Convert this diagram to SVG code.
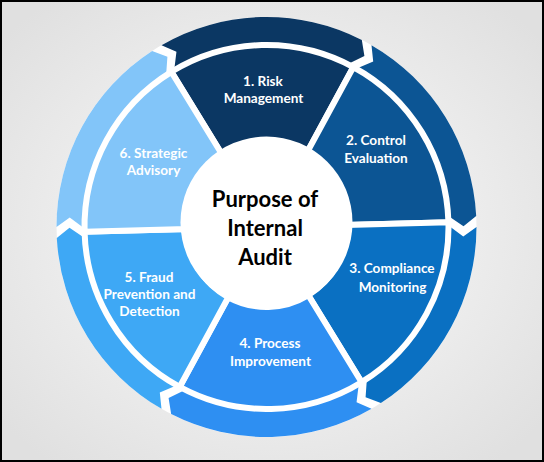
<svg xmlns="http://www.w3.org/2000/svg" xmlns:xlink="http://www.w3.org/1999/xlink" width="544" height="462" viewBox="0 0 544 462">
<defs>
<radialGradient id="bg" cx="50%" cy="50%" r="65%">
<stop offset="0" stop-color="#fdfdfd"/>
<stop offset="1" stop-color="#e0e0e0"/>
</radialGradient>
<path id="seg" d="M -91 -157.62 A 182 182 0 0 1 91 -157.62 L 40 -69.28 A 80 80 0 0 0 -40 -69.28 Z"/>
<path id="arc" d="M -100.20 -184.55 A 210 210 0 0 1 100.20 -184.55 L 102.35 -168.33 L 87.80 -161.70 A 184 184 0 0 0 -87.80 -161.70 L -85.43 -177.51 Z"/>
</defs>
<style>
.seg{stroke:#ffffff;stroke-width:6;stroke-linejoin:miter}
.lbl{font-family:Lato,"Liberation Sans",sans-serif;font-weight:bold;font-size:13.6px;fill:#ffffff;text-anchor:middle}
.title{font-family:Lato,"Liberation Sans",sans-serif;font-weight:bold;font-size:22px;fill:#000000;text-anchor:middle}
.c1{fill:#0b3763}.c2{fill:#0c5594}.c3{fill:#0a70c2}.c4{fill:#2e8ff2}.c5{fill:#3ea8f5}.c6{fill:#82c5f9}
</style>
<rect x="1" y="1" width="542" height="460" fill="url(#bg)" stroke="#000000" stroke-width="2"/>
<circle cx="266.5" cy="227" r="210" fill="#ffffff"/>
<g id="connectors">
<use xlink:href="#arc" class="c1" transform="translate(266.5 227) rotate(-1.5)"/>
<use xlink:href="#arc" class="c2" transform="translate(266.5 227) rotate(58.5)"/>
<use xlink:href="#arc" class="c3" transform="translate(266.5 227) rotate(118.5)"/>
<use xlink:href="#arc" class="c4" transform="translate(266.5 227) rotate(178.5)"/>
<use xlink:href="#arc" class="c5" transform="translate(266.5 227) rotate(238.5)"/>
<use xlink:href="#arc" class="c6" transform="translate(266.5 227) rotate(298.5)"/>
</g>
<g id="node1">
<use xlink:href="#seg" class="seg c1" transform="translate(266.5 227) rotate(-1.5)"/>
<text class="lbl" x="263" y="85.5">1. Risk</text>
<text class="lbl" x="263.5" y="103">Management</text>
</g>
<g id="node2">
<use xlink:href="#seg" class="seg c2" transform="translate(266.5 227) rotate(58.5)"/>
<text class="lbl" x="376" y="144.5">2. Control</text>
<text class="lbl" x="376" y="162.5">Evaluation</text>
</g>
<g id="node3">
<use xlink:href="#seg" class="seg c3" transform="translate(266.5 227) rotate(118.5)"/>
<text class="lbl" x="392" y="272.5">3. Compliance</text>
<text class="lbl" x="392.5" y="291.5">Monitoring</text>
</g>
<g id="node4">
<use xlink:href="#seg" class="seg c4" transform="translate(266.5 227) rotate(178.5)"/>
<text class="lbl" x="270" y="347.5">4. Process</text>
<text class="lbl" x="270.5" y="365.5">Improvement</text>
</g>
<g id="node5">
<use xlink:href="#seg" class="seg c5" transform="translate(266.5 227) rotate(238.5)"/>
<text class="lbl" x="149" y="281.5">5. Fraud</text>
<text class="lbl" x="149.5" y="298.5">Prevention and</text>
<text class="lbl" x="149.5" y="315.5">Detection</text>
</g>
<g id="node6">
<use xlink:href="#seg" class="seg c6" transform="translate(266.5 227) rotate(298.5)"/>
<text class="lbl" x="153.5" y="157.5">6. Strategic</text>
<text class="lbl" x="153.5" y="174.5">Advisory</text>
</g>
<g id="center">
<circle cx="266.5" cy="222.5" r="86" fill="#ffffff"/>
<text class="title" x="265" y="207">Purpose of</text>
<text class="title" x="265" y="236">Internal</text>
<text class="title" x="265" y="265">Audit</text>
</g>
</svg>
